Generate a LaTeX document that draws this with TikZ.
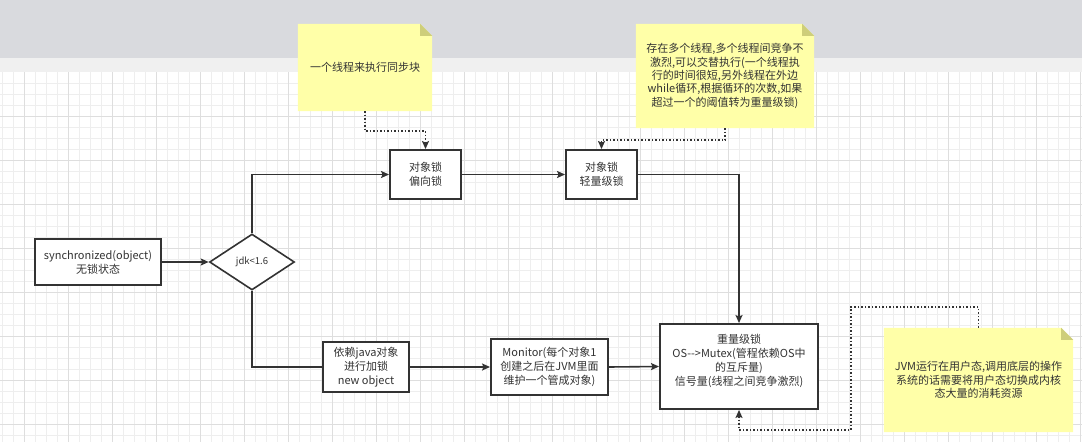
\documentclass[tikz,border=0pt]{standalone}
\usepackage{fontspec}
\newfontfamily\cjk{Noto Sans CJK SC}
\usetikzlibrary{arrows.meta, positioning, shapes.geometric, backgrounds}

\definecolor{bandgray}{RGB}{217,218,222}
\definecolor{stripgray}{RGB}{240,240,240}
\definecolor{gridminor}{RGB}{238,238,238}
\definecolor{gridmajor}{RGB}{222,222,222}
\definecolor{inkgray}{RGB}{51,51,51}
\definecolor{notefill}{RGB}{255,255,168}
\definecolor{notefold}{RGB}{206,206,122}

\begin{document}
\begin{tikzpicture}[x=1pt, y=-1pt, >={Stealth[length=8pt,width=7pt,inset=1.5pt]},
    box/.style={draw=inkgray, line width=1.9pt, fill=white, align=center, inner sep=2pt,
        text=inkgray, font=\cjk\fontsize{11}{14}\selectfont},
    decision/.style={draw=inkgray, line width=1.6pt, fill=white, diamond, minimum width=85pt,
        minimum height=56pt, inner sep=0pt, text=inkgray, font=\cjk\fontsize{9.5}{11}\selectfont},
    note/.style={align=center, inner sep=0pt, text=inkgray, font=\cjk\fontsize{11}{13.4}\selectfont},
    flow/.style={->, draw=inkgray, line width=1.6pt},
    plain/.style={draw=inkgray, line width=1.6pt},
    hint/.style={->, draw=inkgray, line width=1.5pt, dash pattern=on 1.5pt off 2pt}]

    \useasboundingbox (0,0) rectangle (1082,442);

    % Canvas
    \begin{scope}[on background layer]
        \fill[white] (0,72) rectangle (1082,442);
        \fill[bandgray] (0,0) rectangle (1082,58);
        \fill[stripgray] (0,58) rectangle (1082,72);
        \foreach \gx in {2.5,13.5,...,1082} {
            \draw[gridminor, line width=0.8pt] (\gx,72) -- (\gx,442);
        }
        \foreach \gy in {83.3,94.3,...,442} {
            \draw[gridminor, line width=0.8pt] (0,\gy) -- (1082,\gy);
        }
        \foreach \gx in {24.5,68.5,...,1082} {
            \draw[gridmajor, line width=1pt] (\gx,72) -- (\gx,442);
        }
        \foreach \gy in {116.3,160.3,...,442} {
            \draw[gridmajor, line width=1pt] (0,\gy) -- (1082,\gy);
        }
    \end{scope}

    % Flow boxes
    \node[box, minimum width=126pt, minimum height=46pt] (sync) at (98,262)
        {synchronized(object)\\无锁状态};
    \node[decision] (jdk) at (252,262) {jdk<1.6};
    \node[box, minimum width=71pt, minimum height=49pt] (biased) at (425.5,174.5)
        {对象锁\\偏向锁};
    \node[box, minimum width=71pt, minimum height=49pt] (light) at (601.5,174.5)
        {对象锁\\轻量级锁};
    \node[box, minimum width=86pt, minimum height=50pt] (depjava) at (366,367)
        {依赖java对象\\进行加锁\\new object};
    \node[box, minimum width=117pt, minimum height=56pt] (monitor) at (549.5,367)
        {Monitor(每个对象1\\创建之后在JVM里面\\维护一个管成对象)};
    \node[box, minimum width=158pt, minimum height=85pt] (heavy) at (739,366.5)
        {重量级锁\\OS-\kern0pt-\kern0pt>Mutex(管程依赖OS中\\的互斥量)\\信号量(线程之间竞争激烈)\\\mbox{}};

    % Notes
    \node[note, minimum width=134pt, minimum height=87pt] (note1) at (365,67.5)
        {一个线程来执行同步块};
    \node[note, minimum width=178pt, minimum height=104pt] (note2) at (725,76)
        {存在多个线程,多个线程间竞争不\\激烈,可以交替执行(一个线程执\\行的时间很短,另外线程在外边\\while循环,根据循环的次数,如果\\超过一个的阈值转为重量级锁)};
    \node[note, minimum width=189pt, minimum height=104pt] (note3) at (978.5,380)
        {JVM运行在用户态,调用底层的操作\\系统的话需要将用户态切换成内核\\态大量的消耗资源};

    \begin{scope}[on background layer]
        \foreach \n in {note1, note2, note3} {
            \fill[notefill] (\n.south west) -- (\n.north west) -- ([xshift=-12pt]\n.north east)
                -- ([yshift=-12pt]\n.north east) -- (\n.south east) -- cycle;
            \fill[notefold] ([xshift=-12pt]\n.north east) -- ([yshift=-12pt]\n.north east)
                -- ([xshift=-12pt, yshift=-12pt]\n.north east) -- cycle;
        }
    \end{scope}

    % Connectors
    \draw[flow] (sync.east) -- (jdk.west);
    \draw[flow] (jdk.north) |- (biased.west);
    \draw[plain] (jdk.south) |- (depjava.west);
    \draw[flow] (biased.east) -- (light.west);
    \draw[flow] (light.east) -| (heavy.north);
    \draw[flow] (depjava.east) -- (monitor.west);
    \draw[flow] (monitor.east) -- (heavy.west);

    % Note links
    \coordinate (bendtop) at (851,307);
    \coordinate (bendbot) at (851,430);
    \draw[hint] (note1.south) -- ++(0,20) -| (biased.north);
    \draw[hint] (note2.south) -- ++(0,12) -| (light.north);
    \draw[hint] (note3.north) |- (bendtop) -- (bendbot) -| (heavy.south);

\end{tikzpicture}
\end{document}
